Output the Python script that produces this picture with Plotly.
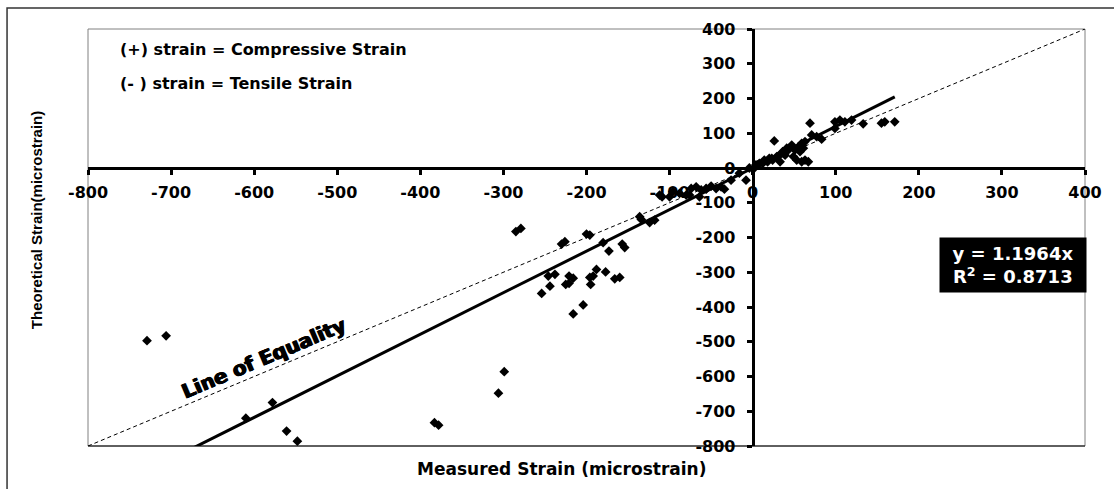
import plotly.graph_objects as go

# Measured (x) vs theoretical (y) strain, microstrain
measured = [
    -729, -706, -610, -578, -561, -548, -383, -378, -299, -306,
    -285, -279, -230, -226, -200, -196, -246, -238, -244, -254,
    -221, -216, -225, -221, -196, -192, -195, -188, -177, -173,
    -180, -166, -160, -157, -154, -204, -216, -136, -134, -124,
    -118, -112, -109,
    -100, -96, -88, -80, -76, -74, -68, -62, -56, -50,
    -44, -38, -34, -26, -16, -8, -4, -64, -56,
    2, 6, 12, 14, 18, 20, 23, 24, 29, 30,
    33, 35, 39, 26, 36, 41, 47, 51, 55, 59,
    63, 53, 59, 63, 67, 49, 69, 71, 77, 83,
    99, 99, 105, 111, 119, 133, 155, 159, 171, 57,
    61, 8, 4, 43,
]
theoretical = [
    -497, -483, -720, -675, -757, -786, -733, -740, -586, -648,
    -183, -174, -219, -212, -190, -193, -311, -306, -340, -361,
    -311, -317, -335, -332, -315, -311, -335, -292, -299, -239,
    -215, -319, -315, -219, -229, -394, -420, -140, -148, -157,
    -150, -78, -83,
    -83, -68, -73, -78, -78, -59, -54, -63, -59, -52,
    -59, -54, -61, -35, -15, -35, 0, -83, -61,
    0, 9, 13, 23, 18, 28, 28, 23, 33, 33,
    18, 42, 37, 78, 47, 57, 66, 52, 61, 71,
    76, 23, 18, 23, 18, 33, 129, 95, 90, 83,
    114, 133, 138, 133, 138, 127, 129, 133, 133, 47,
    57, 13, 9, 52,
]
trend_slope = 1.1964
r_squared = 0.8713
axis_range = [-800, 400]
equality_line = [-800, 400]
tick_values = [-800, -700, -600, -500, -400, -300, -200, -100, 0, 100, 200, 300, 400]
tick_labels = ["-800", "-700", "-600", "-500", "-400", "-300", "-200", "-100",
               "0", "100", "200", "300", "400"]

FONT = "DejaVu Sans"
ARIAL = "Liberation Sans"

x_fit = [min(measured), max(measured)]
y_fit = [trend_slope * v for v in x_fit]

fig = go.Figure()
fig.add_trace(go.Scatter(
    x=equality_line, y=equality_line, mode="lines",
    line=dict(color="black", width=1, dash="4px,3px"),
    hoverinfo="skip", showlegend=False,
))
fig.add_trace(go.Scatter(
    x=x_fit, y=y_fit, mode="lines",
    line=dict(color="black", width=3),
    hoverinfo="skip", showlegend=False,
))
fig.add_trace(go.Scatter(
    x=measured, y=theoretical, mode="markers",
    marker=dict(symbol="diamond", size=7.5, color="black"),
    showlegend=False,
))

zero_pos = (0 - axis_range[0]) / (axis_range[1] - axis_range[0])
axis_common = dict(
    range=axis_range, tickmode="array", tickvals=tick_values, ticktext=tick_labels,
    showgrid=False, zeroline=False,
    showline=True, linecolor="black", linewidth=3,
    ticks="outside", ticklen=5, tickwidth=2.5, tickcolor="black",
    tickfont=dict(family=FONT, size=16, color="black", weight="bold"),
    anchor="free", position=zero_pos,
)

fig.update_layout(
    width=1114, height=489,
    margin=dict(l=88, r=29, t=29, b=43),
    paper_bgcolor="white", plot_bgcolor="white",
    xaxis=dict(**axis_common, ticklabelstandoff=4),
    yaxis=dict(**axis_common, ticklabelstandoff=8),
    shapes=[
        dict(type="rect", xref="paper", yref="paper", x0=0, x1=1, y0=0, y1=1,
             line=dict(color="#808080", width=1), layer="below"),
        dict(type="line", xref="paper", yref="paper", x0=0, x1=1, y0=0, y1=0,
             line=dict(color="black", width=1.2)),
        dict(type="rect", xref="paper", yref="paper", x0=-0.0812, x1=1.2,
             y0=-0.3, y1=1.0504, line=dict(color="#333333", width=1.5)),
    ],
    annotations=[
        dict(text="(+) strain = Compressive Strain", xref="paper", yref="paper",
             x=0.030, y=0.950, xanchor="left", yanchor="middle", showarrow=False,
             font=dict(family=FONT, size=16, color="black", weight="bold")),
        dict(text="(- ) strain = Tensile Strain", xref="paper", yref="paper",
             x=0.030, y=0.870, xanchor="left", yanchor="middle", showarrow=False,
             font=dict(family=FONT, size=16, color="black", weight="bold")),
        dict(text=f"y = {trend_slope}x<br>R<sup>2</sup> = {r_squared}",
             xref="paper", yref="paper", x=1.002, y=0.434,
             xanchor="right", yanchor="middle", showarrow=False,
             bgcolor="black", width=142, height=50, borderpad=2, align="center",
             font=dict(family=FONT, size=18, color="white", weight="bold")),
        dict(text="Line of Equality", xref="x", yref="y", x=-588, y=-548,
             showarrow=False, textangle=-23,
             font=dict(family=FONT, size=20, color="black", weight="bold",
                       shadow="0.8px 0px 0px black, -0.8px 0px 0px black")),
        dict(text="Measured Strain (microstrain)", xref="paper", yref="paper",
             x=0.475, y=-0.055, xanchor="center", yanchor="middle", showarrow=False,
             font=dict(family=FONT, size=17, color="black", weight="bold")),
        dict(text="Theoretical Strain(microstrain)", xref="paper", yref="paper",
             x=-0.051, y=0.542, xanchor="center", yanchor="middle", showarrow=False,
             textangle=-90,
             font=dict(family=ARIAL, size=15, color="black", weight="bold")),
    ],
)

fig.write_html("out.html")
